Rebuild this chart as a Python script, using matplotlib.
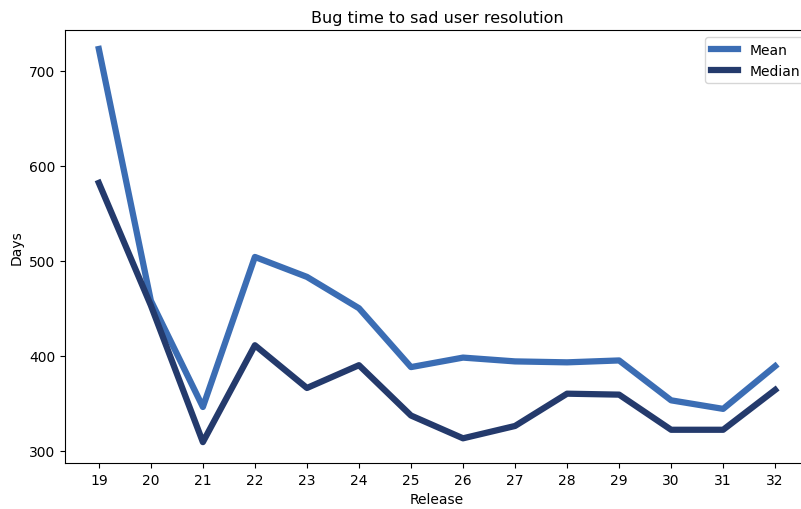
import matplotlib
matplotlib.use("Agg")
import matplotlib.pyplot as plt

releases = [19, 20, 21, 22, 23, 24, 25, 26, 27, 28, 29, 30, 31, 32]
mean_days = [723, 458, 346, 504, 483, 450, 388, 398, 394, 393, 395, 353, 344, 389]
median_days = [582, 453, 309, 411, 366, 390, 337, 313, 326, 360, 359, 322, 322, 364]

fig = plt.figure(figsize=(8.01, 5.10), dpi=100)
ax = fig.add_axes([65 / 801, (510 - 464) / 510, (809 - 65) / 801, (464 - 31) / 510])
ax.plot(releases, mean_days, color="#3B6DB4", linewidth=4.5, label="Mean")
ax.plot(releases, median_days, color="#243A6C", linewidth=4.5, label="Median")
ax.set_xticks(releases)
ax.set_xticklabels([str(r) for r in releases])
ax.set_yticks([300, 400, 500, 600, 700])
ax.set_ylim(287, 743)
ax.set_xlim(18.35, 32.65)
ax.spines["right"].set_visible(False)
ax.set_title("Bug time to sad user resolution", fontsize=11.5)
ax.set_xlabel("Release", fontsize=10)
ax.set_ylabel("Days", fontsize=10)
ax.tick_params(labelsize=10)
ax.legend(loc="upper left", fontsize=10, bbox_to_anchor=(705 / 801, (510 - 38) / 510),
          bbox_transform=fig.transFigure, borderaxespad=0)
fig.savefig("out.png", dpi=100)
